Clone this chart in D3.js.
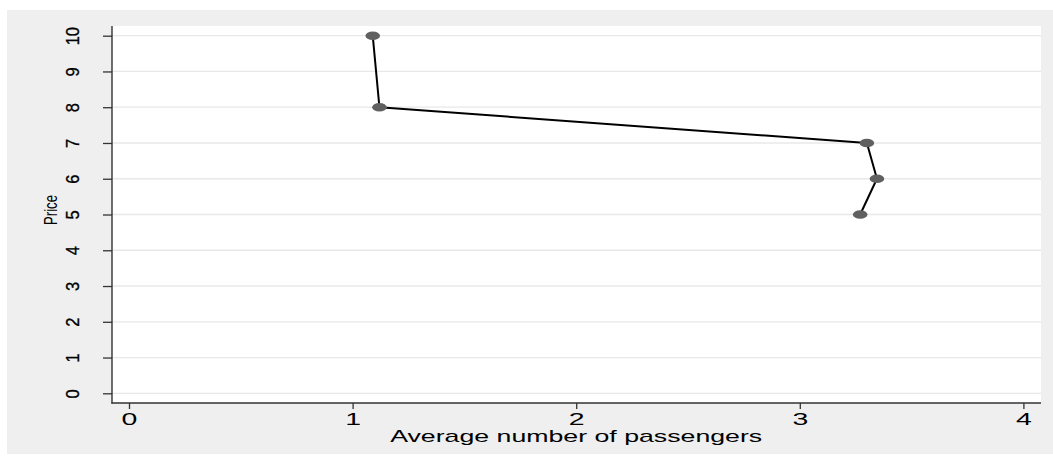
<!DOCTYPE html>
<html>
<head>
<meta charset="utf-8">
<script src="https://cdn.jsdelivr.net/npm/d3@7/dist/d3.min.js"></script>
<style>
html,body{margin:0;padding:0;background:#fff;}
svg{display:block;}
text{font-family:"Liberation Sans",Arial,Helvetica,sans-serif;fill:#000;}
</style>
</head>
<body>
<svg id="chart" width="1053" height="456"></svg>
<script>
const prices = [10, 8, 7, 6, 5];
const passengers = [1.09, 1.12, 3.30, 3.345, 3.27];
const xTicks = [0, 1, 2, 3, 4];
const yTicks = [0, 1, 2, 3, 4, 5, 6, 7, 8, 9, 10];
const xTitle = "Average number of passengers";
const yTitle = "Price";

const svg = d3.select("#chart");
const W = 1053, H = 456;

// outer grey frame
svg.append("rect").attr("x", 7).attr("y", 10).attr("width", W - 7).attr("height", 444).attr("fill", "#efefef");

const plot = {left: 112, right: 1041, top: 26, bottom: 403};
svg.append("rect").attr("x", plot.left).attr("y", plot.top)
  .attr("width", plot.right - plot.left).attr("height", plot.bottom - plot.top).attr("fill", "#fff");

const x = d3.scaleLinear().domain([0, 4]).range([129, 1023.4]);
const y = d3.scaleLinear().domain([0, 10]).range([393.3, 35.7]);

// gridlines
svg.append("g").selectAll("line").data(yTicks).join("line")
  .attr("x1", plot.left).attr("x2", plot.right)
  .attr("y1", d => y(d)).attr("y2", d => y(d))
  .attr("stroke", "#e8e8e8").attr("stroke-width", 1.3);

// Y axis
const yAxis = svg.append("g").attr("transform", `translate(${plot.left},0)`)
  .call(d3.axisLeft(y).tickValues(yTicks).tickSize(9).tickFormat(d3.format("d")));
yAxis.select(".domain").remove();
yAxis.selectAll(".tick line").attr("stroke", "#333").attr("stroke-width", 1.3);
yAxis.selectAll(".tick text").remove();
yAxis.selectAll(".tick").append("text")
  .attr("transform", "translate(-33,0) rotate(-90) scale(1,1.1)")
  .attr("text-anchor", "middle")
  .style("font-size", "16.5px")
  .style("stroke", "#000").style("stroke-width", "0.3px")
  .text(d => d);
svg.append("line").attr("x1", plot.left).attr("x2", plot.left)
  .attr("y1", plot.top).attr("y2", plot.bottom + 0.6)
  .attr("stroke", "#333").attr("stroke-width", 1.4);

// X axis
const xAxis = svg.append("g").attr("transform", `translate(0,${plot.bottom})`)
  .call(d3.axisBottom(x).tickValues(xTicks).tickSize(6).tickFormat(d3.format("d")));
xAxis.select(".domain").remove();
xAxis.selectAll(".tick line").attr("stroke", "#333").attr("stroke-width", 1.3);
xAxis.selectAll(".tick text").remove();
xAxis.selectAll(".tick").append("text")
  .attr("transform", "translate(0,21.5) scale(1.8,1)")
  .attr("text-anchor", "middle")
  .style("font-size", "15.8px")
  .text(d => d);
svg.append("line").attr("x1", plot.left - 0.6).attr("x2", plot.right)
  .attr("y1", plot.bottom).attr("y2", plot.bottom)
  .attr("stroke", "#333").attr("stroke-width", 1.4);

// axis titles
svg.append("text").attr("x", (x(0) + x(4)) / 2).attr("y", 442)
  .attr("text-anchor", "middle").style("font-size", "17px")
  .attr("textLength", 372).attr("lengthAdjust", "spacingAndGlyphs")
  .text(xTitle);
svg.append("text").attr("transform", "translate(57,210) rotate(-90)")
  .attr("text-anchor", "middle").style("font-size", "19px")
  .attr("textLength", 30).attr("lengthAdjust", "spacingAndGlyphs")
  .text(yTitle);

// data
const data = prices.map((p, i) => ({p, v: passengers[i]}));
const line = d3.line().x(d => x(d.v)).y(d => y(d.p));
svg.append("path").datum(data).attr("d", line)
  .attr("fill", "none").attr("stroke", "#000").attr("stroke-width", 2).attr("stroke-linejoin", "round");
svg.append("g").selectAll("ellipse").data(data).join("ellipse")
  .attr("cx", d => x(d.v)).attr("cy", d => y(d.p))
  .attr("rx", 7.3).attr("ry", 4.3).attr("fill", "#606060");
</script>
</body>
</html>
